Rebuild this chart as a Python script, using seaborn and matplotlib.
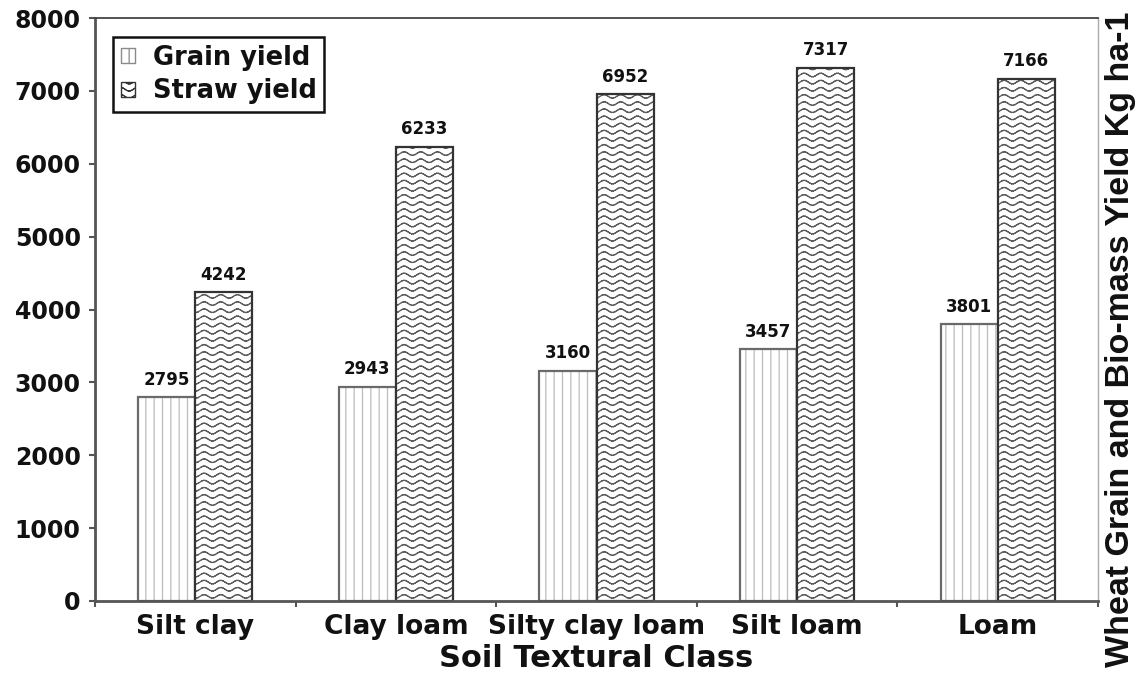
import numpy as np
import pandas as pd
import matplotlib
matplotlib.use("Agg")
import matplotlib.pyplot as plt
import matplotlib.hatch as mhatch
from matplotlib.path import Path
from matplotlib.patches import Patch, Rectangle
from matplotlib.ticker import FixedLocator
from matplotlib import font_manager
import seaborn as sns

# ---- data -------------------------------------------------------------
classes = ["Silt clay", "Clay loam", "Silty clay loam", "Silt loam", "Loam"]
grain_yield = [2795, 2943, 3160, 3457, 3801]
straw_yield = [4242, 6233, 6952, 7317, 7166]
series_names = ["Grain yield", "Straw yield"]
y_ticks = [0, 1000, 2000, 3000, 4000, 5000, 6000, 7000, 8000]
x_title = "Soil Textural Class"
y_title = "Wheat Grain and Bio-mass Yield Kg ha-1"


# ---- wavy hatch (replaces the large-circle pattern 'O') ----------------
class WaveHatch(mhatch.HatchPatternBase):
    """Rows of sine-shaped lines, stored as separate short segments."""

    def __init__(self, hatch, density):
        self.num_rows = hatch.count("O") * 14
        self.segs = 60
        self.num_vertices = self.num_rows * self.segs * 2

    def set_vertices_and_codes(self, vertices, codes):
        n = self.num_rows
        xs = np.linspace(0.0, 1.0, self.segs + 1)
        amp = 0.25 / n
        k = 0
        for i in range(n):
            ys = (i + 0.5) / n + amp * np.sin(2 * np.pi * 6 * xs)
            pts = np.column_stack([xs, ys])
            vertices[k:k + 2 * self.segs:2] = pts[:-1]
            vertices[k + 1:k + 2 * self.segs:2] = pts[1:]
            codes[k:k + 2 * self.segs:2] = Path.MOVETO
            codes[k + 1:k + 2 * self.segs:2] = Path.LINETO
            k += 2 * self.segs


mhatch._hatch_types = [h for h in mhatch._hatch_types
                       if h is not mhatch.LargeCircles] + [WaveHatch]

# ---- style ------------------------------------------------------------
sns.set_style("ticks")
plt.rcParams["font.family"] = ["DejaVu Sans"]
plt.rcParams["font.weight"] = "bold"
plt.rcParams["hatch.linewidth"] = 0.9

font_names = {f.name for f in font_manager.fontManager.ttflist}
if "Liberation Sans Narrow" in font_names:
    side_family, side_size = "Liberation Sans Narrow", 30
else:
    side_family, side_size = "Liberation Sans", 24.5

GRAIN_HATCH_COL = "#bcbcbc"
GRAIN_EDGE_COL = "#6a6a6a"
STRAW_HATCH_COL = "#5c5c5c"
STRAW_EDGE_COL = "#333333"
AXIS_COL = "#555555"

df = pd.DataFrame({
    x_title: classes * 2,
    "Type": [series_names[0]] * len(classes) + [series_names[1]] * len(classes),
    "Yield": grain_yield + straw_yield,
})

fig = plt.figure(figsize=(11.46, 6.78), dpi=100)
ax = fig.add_axes([95 / 1146, 1 - 601 / 678, 1003 / 1146, 583 / 678])

sns.barplot(data=df, x=x_title, y="Yield", hue="Type", order=classes,
            hue_order=series_names, palette=["white", "white"], saturation=1,
            width=0.57, errorbar=None, legend=False, ax=ax, linewidth=0)

grain_bars, straw_bars = ax.containers[0], ax.containers[1]

# hatch colour follows the bar edge colour, so outlines are drawn on top
for bars, hatch, hcol, ecol, z in ((grain_bars, "||", GRAIN_HATCH_COL, GRAIN_EDGE_COL, 2),
                                   (straw_bars, "O", STRAW_HATCH_COL, STRAW_EDGE_COL, 3)):
    for bar in bars:
        bar.set_hatch(hatch)
        bar.set_edgecolor(hcol)
        bar.set_linewidth(0.5)
        bar.set_zorder(z)
        ax.add_patch(Rectangle(bar.get_xy(), bar.get_width(), bar.get_height(),
                               fill=False, edgecolor=ecol, linewidth=1.6,
                               zorder=z + 0.5))

ax.bar_label(grain_bars, labels=[str(v) for v in grain_yield], padding=6,
             fontsize=12, fontweight="bold", color="#111111")
ax.bar_label(straw_bars, labels=[str(v) for v in straw_yield], padding=6,
             fontsize=12, fontweight="bold", color="#111111")

# ---- axes -------------------------------------------------------------
ax.set_xlim(-0.5, len(classes) - 0.5)
ax.set_ylim(y_ticks[0], y_ticks[-1])
ax.set_yticks(y_ticks)
ax.set_yticklabels([str(t) for t in y_ticks])
ax.xaxis.set_minor_locator(FixedLocator(np.arange(-0.5, len(classes), 1.0)))

ax.tick_params(axis="y", which="major", direction="out", length=4.3,
               width=1.5, color=AXIS_COL, pad=6, labelsize=17,
               labelcolor="#111111")
ax.tick_params(axis="x", which="major", length=0, pad=9, labelsize=19,
               labelcolor="#111111")
ax.tick_params(axis="x", which="minor", direction="out", length=4.3,
               width=1.5, color=AXIS_COL)
for lab in ax.get_xticklabels() + ax.get_yticklabels():
    lab.set_fontweight("bold")

for side in ("left", "bottom"):
    ax.spines[side].set_color(AXIS_COL)
    ax.spines[side].set_linewidth(2)
ax.spines["top"].set_color("#444444")
ax.spines["top"].set_linewidth(1.3)
ax.spines["right"].set_color("#aaaaaa")
ax.spines["right"].set_linewidth(1)
for s in ax.spines.values():
    s.set_visible(True)
    s.set_zorder(5)

ax.set_xlabel(x_title, fontsize=22, fontweight="bold", labelpad=3,
              color="#111111")
ax.set_ylabel("")

fig.text(1121 / 1146, 0.5, y_title, rotation=90, ha="center", va="center",
         family=[side_family, "DejaVu Sans"], fontsize=side_size,
         fontweight="bold", color="#111111")

# ---- legend -----------------------------------------------------------
handles = [
    Patch(facecolor="white", edgecolor="#8a8a8a", hatch="||", linewidth=1.0,
          label=series_names[0]),
    Patch(facecolor="white", edgecolor=STRAW_EDGE_COL, hatch="O", linewidth=1.0,
          label=series_names[1]),
]
leg = ax.legend(handles=handles, loc="upper left",
                bbox_to_anchor=(18 / 1003, 1 - 19 / 583), fontsize=18.5,
                frameon=True, fancybox=False, edgecolor="#111111",
                framealpha=1, borderpad=0.3, handlelength=0.55,
                handleheight=0.55, handletextpad=0.7, labelspacing=0.3,
                borderaxespad=0)
leg.get_frame().set_linewidth(1.8)
for t in leg.get_texts():
    t.set_fontweight("bold")
    t.set_color("#111111")

fig.savefig("out.png", dpi=100)
